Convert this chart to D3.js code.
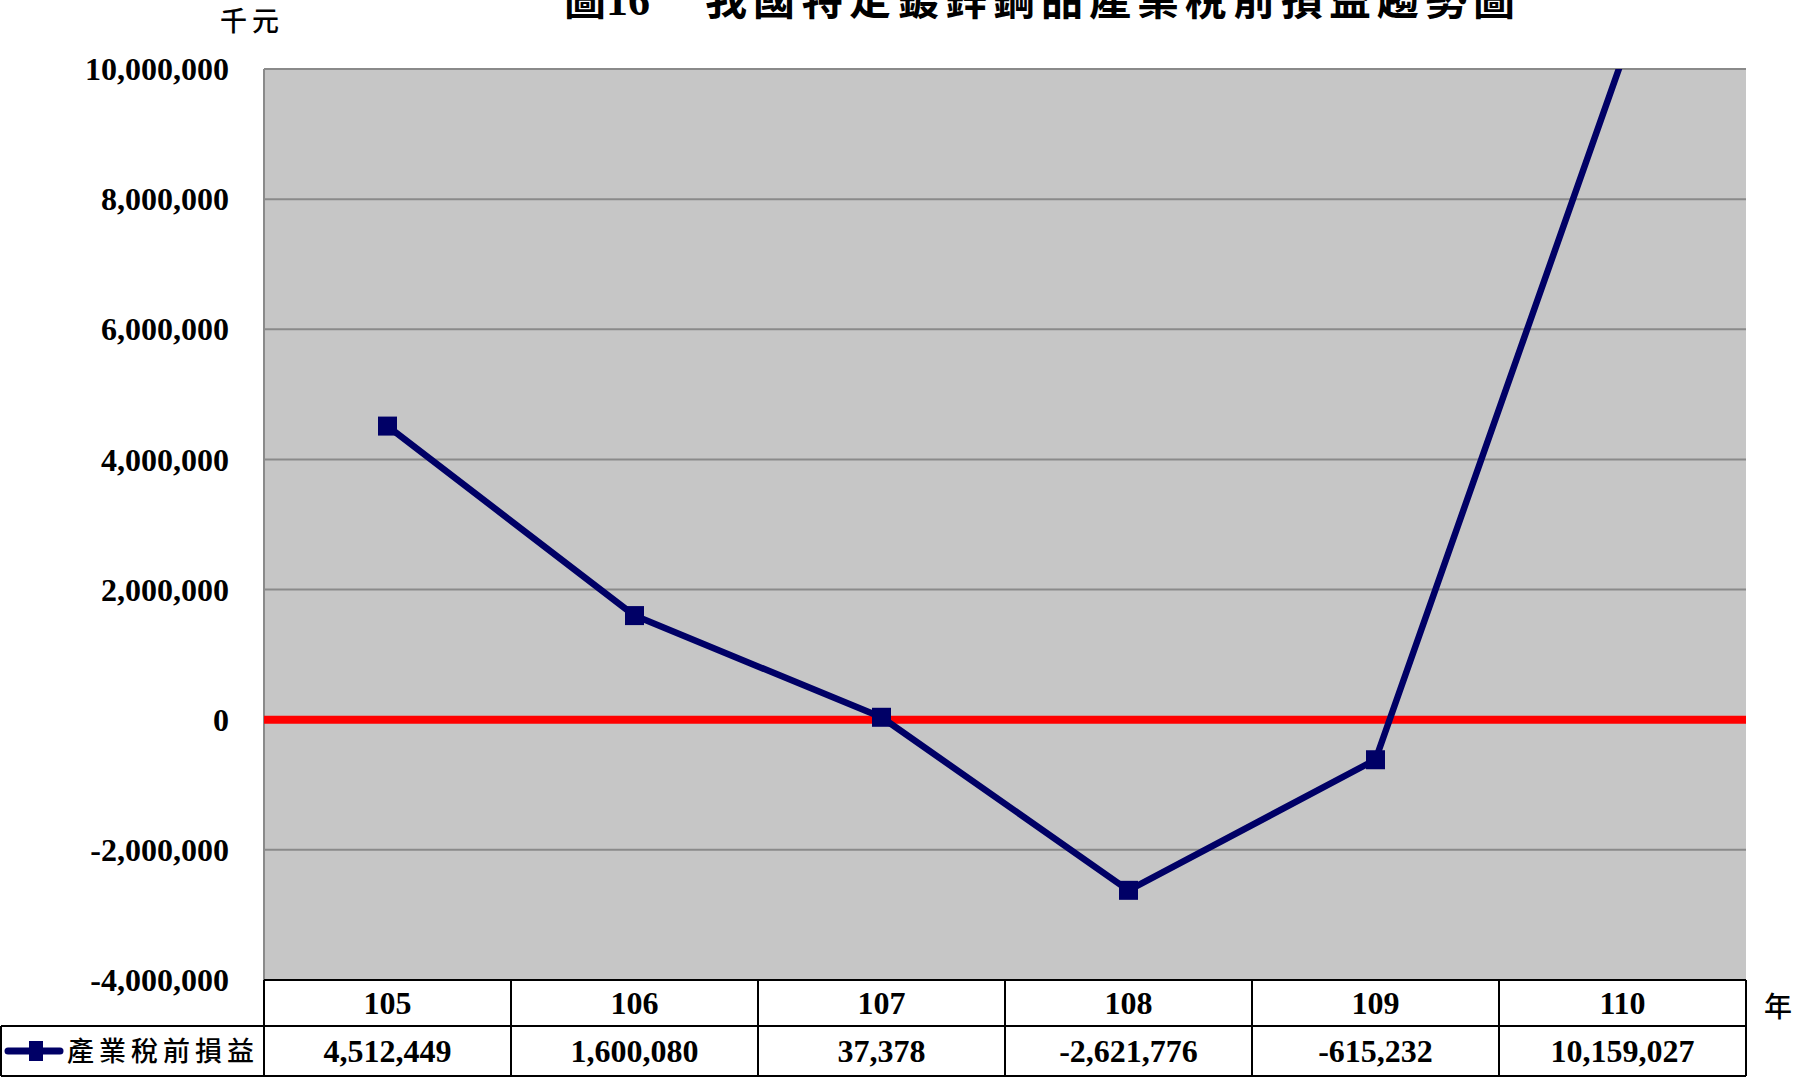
<html lang="zh-Hant">
<head>
  <meta charset="UTF-8">
  <title>圖16 我國特定鍍鋅鋼品產業稅前損益趨勢圖</title>
  <style>
    body { margin: 0; background: #fff; }
    .num { font-family: "Liberation Serif", "Times New Roman", serif; font-weight: bold; }
    .cjk { font-family: "Noto Sans CJK TC", "Noto Sans CJK SC", sans-serif; }
  </style>
</head>
<body>
  <div id="chart"></div>
  <script src="https://d3js.org/d3.v7.min.js"></script>
  <script>
    // data
    const years = ["105", "106", "107", "108", "109", "110"];
    const profit = [4512449, 1600080, 37378, -2621776, -615232, 10159027];
    const yTicks = [-4000000, -2000000, 0, 2000000, 4000000, 6000000, 8000000, 10000000];
    const seriesName = "產業稅前損益";

    const w = 1798, h = 1078;
    const plotL = 264, plotR = 1746, plotT = 69, plotB = 980;
    const rowH = 47;

    const svg = d3.select("#chart").append("svg")
      .attr("width", w)
      .attr("height", h);

    const x = d3.scaleBand().domain(years).range([plotL, plotR]);
    const y = d3.scaleLinear().domain([-4000000, 10000000]).range([plotB, plotT]);
    // plain hyphen for negatives, like the original
    const fmt = d3.formatLocale({ decimal: ".", thousands: ",", grouping: [3], currency: ["", ""], minus: "-" }).format(",");

    // plot background
    svg.append("rect")
      .attr("x", plotL).attr("y", plotT)
      .attr("width", plotR - plotL).attr("height", plotB - plotT)
      .attr("fill", "#c6c6c6");

    // gridlines
    svg.append("g")
      .selectAll("line")
      .data(yTicks.filter(d => d !== 0 && d !== -4000000))
      .enter()
      .append("line")
      .attr("x1", plotL).attr("x2", plotR)
      .attr("y1", d => y(d)).attr("y2", d => y(d))
      .attr("stroke", "#8a8a8a")
      .attr("stroke-width", 2);

    // left axis line
    svg.append("line")
      .attr("x1", plotL).attr("x2", plotL)
      .attr("y1", plotT).attr("y2", plotB)
      .attr("stroke", "#8a8a8a")
      .attr("stroke-width", 2);

    // red zero line
    svg.append("line")
      .attr("x1", plotL).attr("x2", plotR)
      .attr("y1", y(0)).attr("y2", y(0))
      .attr("stroke", "#ff0000")
      .attr("stroke-width", 8);

    // y labels
    svg.append("g")
      .selectAll("text")
      .data(yTicks)
      .enter()
      .append("text")
      .attr("class", "num")
      .attr("x", 229)
      .attr("y", d => y(d))
      .attr("dy", "0.35em")
      .attr("text-anchor", "end")
      .attr("font-size", 32)
      .text(d => fmt(d));

    // line + markers, clipped to plot area
    svg.append("clipPath").attr("id", "plot-clip")
      .append("rect")
      .attr("x", plotL).attr("y", plotT)
      .attr("width", plotR - plotL).attr("height", plotB - plotT);

    const pts = years.map((d, i) => [x(d) + x.bandwidth() / 2, y(profit[i])]);
    const plot = svg.append("g").attr("clip-path", "url(#plot-clip)");

    plot.append("path")
      .attr("d", d3.line()(pts))
      .attr("fill", "none")
      .attr("stroke", "#000066")
      .attr("stroke-width", 6.5)
      .attr("stroke-linejoin", "round");

    plot.selectAll("rect.marker")
      .data(pts)
      .enter()
      .append("rect")
      .attr("class", "marker")
      .attr("x", d => d[0] - 9.5).attr("y", d => d[1] - 9.5)
      .attr("width", 19).attr("height", 19)
      .attr("fill", "#000066");

    // data table
    const table = svg.append("g");
    const hy0 = plotB, hy1 = plotB + rowH - 1, dy1 = h - 2;

    // header row (years)
    table.selectAll("text.year")
      .data(years)
      .enter()
      .append("text")
      .attr("class", "num year")
      .attr("x", d => x(d) + x.bandwidth() / 2)
      .attr("y", (hy0 + hy1) / 2)
      .attr("dy", "0.35em")
      .attr("text-anchor", "middle")
      .attr("font-size", 32)
      .text(d => d);

    // value row
    table.selectAll("text.val")
      .data(profit)
      .enter()
      .append("text")
      .attr("class", "num val")
      .attr("x", (d, i) => x(years[i]) + x.bandwidth() / 2)
      .attr("y", (hy1 + dy1) / 2)
      .attr("dy", "0.35em")
      .attr("text-anchor", "middle")
      .attr("font-size", 32)
      .text(d => fmt(d));

    // table borders
    const border = (x1, y1, x2, y2) => table.append("line")
      .attr("x1", x1).attr("y1", y1).attr("x2", x2).attr("y2", y2)
      .attr("stroke", "#000").attr("stroke-width", 2);

    border(plotL, hy0, plotR, hy0);
    border(1, hy1, plotR, hy1);
    border(1, dy1, plotR, dy1);
    border(1, hy1, 1, dy1);
    years.forEach(d => border(x(d), hy0, x(d), dy1));
    border(plotR, hy0, plotR, dy1);

    // legend key in the table
    const ly = (hy1 + dy1) / 2;
    table.append("line")
      .attr("x1", 8).attr("x2", 60)
      .attr("y1", ly).attr("y2", ly)
      .attr("stroke", "#000066")
      .attr("stroke-width", 7)
      .attr("stroke-linecap", "round");
    table.append("rect")
      .attr("x", 29).attr("y", ly - 10)
      .attr("width", 14).attr("height", 20)
      .attr("fill", "#000066");
    table.append("text")
      .attr("class", "cjk")
      .attr("x", 67)
      .attr("y", ly)
      .attr("dy", "0.36em")
      .attr("font-size", 27)
      .attr("font-weight", 500)
      .attr("letter-spacing", 5)
      .text(seriesName);

    // title (cut at the top edge, as in the original) and unit labels
    const title = svg.append("text")
      .attr("x", 564)
      .attr("y", 15)
      .attr("font-weight", "bold")
      .attr("font-size", 42);
    title.append("tspan").attr("class", "cjk").text("圖");
    title.append("tspan").attr("class", "num").attr("font-size", 44).text("16");
    title.append("tspan").attr("class", "cjk")
      .attr("x", 705)
      .attr("letter-spacing", 6)
      .text("我國特定鍍鋅鋼品產業稅前損益趨勢圖");

    svg.append("text")
      .attr("class", "cjk")
      .attr("x", 220)
      .attr("y", 21)
      .attr("dy", "0.36em")
      .attr("font-size", 27)
      .attr("font-weight", 500)
      .attr("letter-spacing", 5)
      .text("千元");

    svg.append("text")
      .attr("class", "cjk")
      .attr("x", 1764)
      .attr("y", 1007)
      .attr("dy", "0.36em")
      .attr("font-size", 28)
      .attr("font-weight", 500)
      .text("年");
  </script>
</body>
</html>
